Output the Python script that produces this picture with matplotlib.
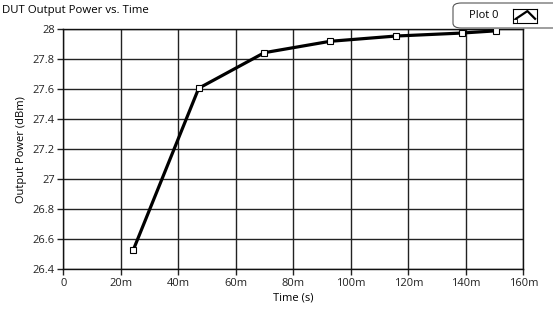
import numpy as np
import matplotlib.pyplot as plt
from matplotlib.patches import FancyBboxPatch

plt.rcParams['font.family'] = ['Open Sans', 'DejaVu Sans']

# time in seconds, power in dBm
time_s = [0.0243, 0.0471, 0.0699, 0.0928, 0.1156, 0.1386, 0.1506]
power_dbm = [26.527, 27.607, 27.844, 27.92, 27.955, 27.975, 27.99]

x_ticks = [0, 0.02, 0.04, 0.06, 0.08, 0.10, 0.12, 0.14, 0.16]
x_labels = ['0', '20m', '40m', '60m', '80m', '100m', '120m', '140m', '160m']
y_ticks = [26.4, 26.6, 26.8, 27, 27.2, 27.4, 27.6, 27.8, 28]
y_labels = ['26.4', '26.6', '26.8', '27', '27.2', '27.4', '27.6', '27.8', '28']

fig = plt.figure(figsize=(5.53, 3.2), dpi=100)
ax = fig.add_axes([63.3/553, 1-269.3/320, 460/553, 240/320])

ax.plot(time_s, power_dbm, color='black', lw=2.3, marker='s', ms=4.5,
        mfc='white', mec='black', mew=0.8, zorder=3)

ax.set_xlim(0, 0.16)
ax.set_ylim(26.4, 28)
ax.set_xticks(x_ticks)
ax.set_xticklabels(x_labels)
ax.set_yticks(y_ticks)
ax.set_yticklabels(y_labels)
ax.grid(True, color='#222222', lw=1)
ax.set_axisbelow(True)
ax.tick_params(labelsize=8, length=4, width=1, pad=2, colors='#222222')
for s in ax.spines.values():
    s.set_color('#111111')
    s.set_linewidth(1)

ax.set_xlabel('Time (s)', fontsize=8, labelpad=3)
ax.set_ylabel('Output Power (dBm)', fontsize=8, labelpad=4)
fig.text(2/553, 1-11/320, 'DUT Output Power vs. Time', fontsize=8.2,
         ha='left', va='center')

# legend box like LabVIEW plot legend
box = FancyBboxPatch((453/553, 1-28/320), 110/553, 25/320,
                     boxstyle='round,pad=0,rounding_size=0.015',
                     transform=fig.transFigure, fc='white', ec='#555555',
                     lw=0.8, zorder=10)
fig.add_artist(box)
fig.text(484/553, 1-15/320, 'Plot 0', fontsize=8, ha='center', va='center',
         zorder=11)
icon = fig.add_axes([513/553, 1-23/320, 24/553, 14/320], zorder=12)
icon.set_xlim(0, 1)
icon.set_ylim(0, 1)
icon.plot([0.12, 0.6, 0.92], [0.3, 0.85, 0.3], color='black', lw=1.6)
icon.plot([0.1], [0.15], marker='s', ms=2.2, mfc='white', mec='black', mew=0.6)
icon.set_xticks([])
icon.set_yticks([])
for s in icon.spines.values():
    s.set_linewidth(0.8)

fig.savefig('out.png', dpi=100)
